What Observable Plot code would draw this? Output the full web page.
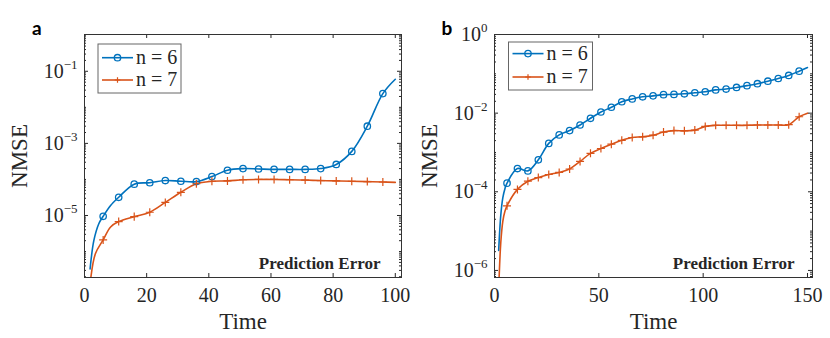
<!DOCTYPE html>
<html><head><meta charset="utf-8">
<script src="https://cdn.jsdelivr.net/npm/d3@7"></script>
<script src="https://cdn.jsdelivr.net/npm/@observablehq/plot@0.6"></script>
<style>
body{margin:0;background:#fff;}
#wrap{position:relative;width:830px;height:338px;overflow:hidden;background:#fff;}
.panel{position:absolute;top:0;}
</style></head><body>
<div id="wrap"></div>
<script>
// ---------- data (panel a) ----------
const aTime6 = [1.8, 3, 4.6, 6, 8.4, 11, 16, 21, 26, 31, 36, 41, 46, 51, 56, 61, 66, 71, 76, 81, 86, 91, 96, 100];
const aN6 = [3.3e-7, 2.0e-6, 5.9e-6, 9.5e-6, 1.9e-5, 3.2e-5, 7.4e-5, 8.1e-5, 9.3e-5, 8.9e-5, 8.7e-5, 1.2e-4, 1.8e-4, 2.0e-4, 1.95e-4, 1.9e-4, 1.9e-4, 1.9e-4, 2.0e-4, 2.6e-4, 6.0e-4, 3.0e-3, 2.4e-2, 6.0e-2];
const aTime7 = [1.9, 3.5, 6, 8.4, 11, 16, 21, 26, 31, 36, 41, 46, 51, 56, 61, 66, 71, 76, 81, 86, 91, 96, 100];
const aN7 = [1.5e-7, 8.7e-7, 2.1e-6, 4.8e-6, 6.8e-6, 9.3e-6, 1.23e-5, 2.3e-5, 4.4e-5, 7.6e-5, 8.9e-5, 9.1e-5, 9.8e-5, 1.0e-4, 1.0e-4, 9.8e-5, 9.6e-5, 9.3e-5, 9.1e-5, 8.9e-5, 8.7e-5, 8.5e-5, 8.3e-5];
const aXTicks = [0, 20, 40, 60, 80, 100];
const aYTicks = [1e-5, 1e-3, 1e-1];

// ---------- data (panel b) ----------
const bTime = [2, 3, 4, 5, 6, 11, 16, 21, 26, 31, 36, 41, 46, 51, 56, 61, 66, 71, 76, 81, 86, 91, 96, 101, 106, 111, 116, 121, 126, 131, 136, 141, 146, 150];
const bN6 = [3.2e-6, 2.5e-5, 7.1e-5, 1.2e-4, 1.66e-4, 3.9e-4, 3.4e-4, 6.5e-4, 1.7e-3, 2.8e-3, 3.6e-3, 5.0e-3, 7.4e-3, 1.07e-2, 1.41e-2, 1.95e-2, 2.3e-2, 2.6e-2, 2.75e-2, 2.95e-2, 3.0e-2, 3.1e-2, 3.3e-2, 3.5e-2, 3.9e-2, 4.1e-2, 4.5e-2, 5.0e-2, 5.6e-2, 6.5e-2, 7.6e-2, 9.1e-2, 0.117, 0.145];
const bN7 = [3.2e-7, 5.0e-6, 1.8e-5, 3.2e-5, 4.4e-5, 1.15e-4, 1.86e-4, 2.3e-4, 2.75e-4, 3.1e-4, 3.8e-4, 5.9e-4, 9.5e-4, 1.26e-3, 1.62e-3, 2.04e-3, 2.4e-3, 2.5e-3, 2.75e-3, 3.3e-3, 3.6e-3, 3.55e-3, 3.7e-3, 4.6e-3, 4.9e-3, 4.9e-3, 4.9e-3, 4.9e-3, 5.0e-3, 5.0e-3, 5.0e-3, 5.1e-3, 8.1e-3, 1.0e-2];
const bXTicks = [0, 50, 100, 150];
const bYTicks = [1e-6, 1e-4, 1e-2, 1];

const seriesNames = ["n = 6", "n = 7"];
const blue = "#0072BD", orange = "#D95319";
const ink = "#262626";
const serif = "Liberation Serif";

function build(cfg) {
  const W = 415, H = 338;
  const pw = W - cfg.ml - cfg.mr, ph = H - cfg.mt - cfg.mb;
  const [y0, y1] = cfg.yDomain;
  const minor = [];
  for (let k = Math.floor(Math.log10(y0)); k <= Math.ceil(Math.log10(y1)); k++) {
    for (let m = 1; m < 10; m++) {
      const v = m * Math.pow(10, k);
      const isMajor = m === 1 && cfg.yTicks.some(t => Math.abs(Math.log10(t) - k) < 1e-9);
      if (v >= y0 && v <= y1 && !isMajor) minor.push(v);
    }
  }
  const s6 = cfg.t6.map((t, i) => ({t, v: cfg.v6[i]}));
  const s7 = cfg.t7.map((t, i) => ({t, v: cfg.v7[i]}));
  const isMarker = d => d.t >= 6 && (d.t - 1) % 5 === 0;

  const svg = Plot.plot({
    width: W, height: H,
    marginLeft: cfg.ml, marginRight: cfg.mr, marginTop: cfg.mt, marginBottom: cfg.mb,
    style: {fontFamily: serif, fontSize: "20px", color: ink, background: "white", overflow: "visible"},
    x: {domain: cfg.xDomain},
    y: {type: "log", domain: cfg.yDomain},
    marks: [
      Plot.line(s6, {x: "t", y: "v", stroke: blue, strokeWidth: 1.6, curve: "catmull-rom", clip: true}),
      Plot.line(s7, {x: "t", y: "v", stroke: orange, strokeWidth: 1.6, curve: "catmull-rom", clip: true}),
      Plot.dot(s6.filter(isMarker), {x: "t", y: "v", r: 3.2, stroke: blue, strokeWidth: 1.3, fill: "none"}),
      Plot.dot(s7.filter(isMarker), {x: "t", y: "v", r: 2.7, symbol: "plus", stroke: orange, strokeWidth: 1.2}),
      Plot.tickX(cfg.xTicks, {x: d => d, insetTop: ph - 4, stroke: ink}),
      Plot.tickX(cfg.xTicks, {x: d => d, insetBottom: ph - 4, stroke: ink}),
      Plot.tickY(cfg.yTicks, {y: d => d, insetRight: pw - 4, stroke: ink}),
      Plot.tickY(cfg.yTicks, {y: d => d, insetLeft: pw - 4, stroke: ink}),
      Plot.tickY(minor, {y: d => d, insetRight: pw - 2, stroke: ink}),
      Plot.tickY(minor, {y: d => d, insetLeft: pw - 2, stroke: ink}),
      Plot.frame({stroke: "#333"}),
      Plot.axisX({ticks: cfg.xTicks, tickSize: 0, tickPadding: 10, label: null, tickFormat: d => String(d), fontFamily: serif, fontSize: 20}),
      Plot.axisY({ticks: cfg.yTicks, tickSize: 0, tickPadding: 7, label: null, tickFormat: d => "10^" + Math.round(Math.log10(d)), fontFamily: serif, fontSize: 20}),
      Plot.text(["Time"], {text: d => d, frameAnchor: "bottom", dy: 44, lineAnchor: "middle", textAnchor: "middle", fontFamily: serif, fontSize: 23}),
      Plot.text(["NMSE"], {text: d => d, frameAnchor: "left", dx: -65, rotate: -90, lineAnchor: "middle", textAnchor: "middle", fontFamily: serif, fontSize: 23}),
      Plot.text(["Prediction Error"], {text: d => d, frameAnchor: "bottom-right", dx: cfg.peDx, dy: -9, lineAnchor: "bottom", textAnchor: "end", fontFamily: serif, fontWeight: "bold", fontSize: 17})
    ]
  });

  // superscript exponents in the y tick labels
  const ns = "http://www.w3.org/2000/svg";
  svg.querySelectorAll('[aria-label="y-axis tick label"] text').forEach(t => {
    const m = t.textContent.match(/^10\^(-?\d+)$/);
    if (!m) return;
    t.textContent = "";
    const base = document.createElementNS(ns, "tspan");
    base.textContent = "10";
    const sup = document.createElementNS(ns, "tspan");
    sup.textContent = m[1].replace("-", "\u2212");
    sup.setAttribute("dy", "-9");
    sup.setAttribute("font-size", "13px");
    t.append(base, sup);
  });

  // legend
  const L = cfg.legend;
  const g = d3.select(svg).append("g").attr("text-anchor", "start");
  g.append("rect").attr("x", L.x).attr("y", L.y).attr("width", L.w).attr("height", L.h)
    .attr("fill", "white").attr("stroke", "#666").attr("stroke-width", 1);
  [[blue, "circle"], [orange, "plus"]].forEach(([c, sym], i) => {
    const yy = L.y + L.rows[i];
    g.append("line").attr("x1", L.x + 4).attr("x2", L.x + 35).attr("y1", yy).attr("y2", yy)
      .attr("stroke", c).attr("stroke-width", 1.6);
    const cx = L.x + 19.5;
    if (sym === "circle") {
      g.append("circle").attr("cx", cx).attr("cy", yy).attr("r", 3.2).attr("fill", "none").attr("stroke", c).attr("stroke-width", 1.3);
    } else {
      g.append("path").attr("d", `M${cx - 2.8},${yy}H${cx + 2.8}M${cx},${yy - 2.8}V${yy + 2.8}`).attr("stroke", c).attr("stroke-width", 1.2);
    }
    g.append("text").attr("x", L.x + 38).attr("y", yy).attr("dy", "0.32em")
      .attr("text-anchor", "start").attr("font-family", serif)
      .attr("font-size", 20).attr("fill", ink).text(seriesNames[i]);
  });
  // panel letter
  d3.select(svg).append("text").attr("x", cfg.letterX).attr("y", 35).attr("text-anchor", "start")
    .attr("font-family", "Lato, 'Open Sans', sans-serif").attr("font-weight", 700).attr("font-size", 19)
    .attr("fill", "#000").text(cfg.letter);

  const div = document.createElement("div");
  div.className = "panel";
  div.style.left = cfg.left + "px";
  div.appendChild(svg);
  document.getElementById("wrap").appendChild(div);
}

build({
  left: 0, ml: 84, mr: 14, mt: 34, mb: 61,
  xDomain: [0, 102], yDomain: [Math.pow(10, -6.72), Math.pow(10, 0.02)],
  xTicks: aXTicks, yTicks: aYTicks,
  t6: aTime6, v6: aN6, t7: aTime7, v7: aN7,
  peDx: -21,
  legend: {x: 98, y: 44, w: 83, h: 49, rows: [13.7, 36]},
  letter: "a", letterX: 32
});
build({
  left: 415, ml: 79, mr: 18, mt: 34, mb: 61,
  xDomain: [0, 152.4], yDomain: [Math.pow(10, -6.18), 1],
  xTicks: bXTicks, yTicks: bYTicks,
  t6: bTime, v6: bN6, t7: bTime, v7: bN7,
  peDx: -18,
  legend: {x: 93.5, y: 42, w: 84, h: 48, rows: [11.6, 35]},
  letter: "b", letterX: 26.5
});
</script>
</body></html>
